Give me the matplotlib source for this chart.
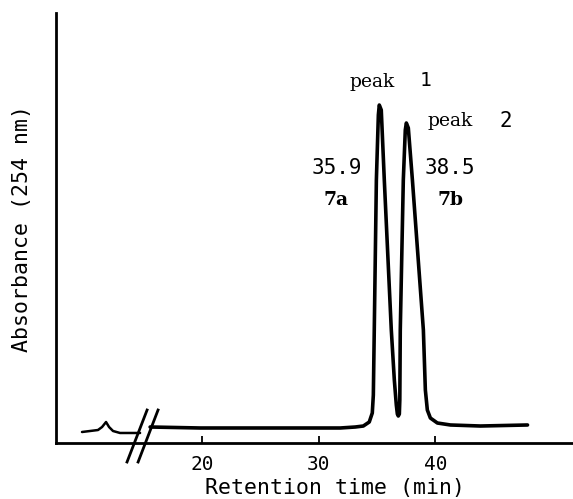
import matplotlib
matplotlib.use("Agg")
import matplotlib.pyplot as plt

# ---- data ----
# trace before the axis break (retention time, min / absorbance, arb.)
pre_t = [9.70, 10.39, 11.07, 11.42, 11.76, 12.02, 12.36, 12.96, 13.82, 14.68]
pre_a = [2.56, 2.79, 3.02, 3.72, 4.88, 3.72, 2.79, 2.33, 2.33, 2.33]

# trace after the break, including the two peaks
main_t = [15.54, 19.83, 24.12, 28.41, 31.85, 33.13, 33.82, 34.33, 34.59, 34.68,
          34.76, 34.94, 35.11, 35.19, 35.36, 35.62, 36.22, 36.48, 36.65, 36.74,
          36.82, 36.91, 36.95, 36.99, 37.25, 37.42, 37.51, 37.68, 38.03, 38.97,
          39.14, 39.31, 39.57, 40.17, 41.29, 43.86, 47.90]
main_a = [3.72, 3.49, 3.49, 3.49, 3.49, 3.72, 3.95, 4.88, 6.98, 11.16,
          26.28, 61.16, 76.28, 78.60, 77.44, 61.16, 26.28, 14.65, 8.84, 6.74,
          6.28, 6.74, 10.00, 26.28, 61.16, 72.79, 74.42, 73.26, 61.16, 26.28,
          12.33, 7.67, 5.81, 4.65, 4.19, 3.95, 4.19]

# axis break marks (two slashes)
break_t0 = [13.56, 14.51]
break_t1 = [15.28, 16.22]
break_a0 = -4.42
break_a1 = 7.67

x_ticks = [20, 30, 40]
x_ticklabels = ["20", "30", "40"]

peak_time_labels = ["35.9", "38.5"]
peak_compound_labels = ["7a", "7b"]

W, H, DPI = 573, 499, 100
fig = plt.figure(figsize=(W / DPI, H / DPI), dpi=DPI)

# axes box in pixels: left 56, right 573, bottom 443, top 13
ax = fig.add_axes([56 / W, (H - 443) / H, (573 - 56) / W, (443 - 13) / H])
ax.set_xlim(7.47, 51.8)
ax.set_ylim(0, 100)

lw = 2.6
ax.plot(pre_t, pre_a, color="black", lw=1.8, solid_joinstyle="round", solid_capstyle="round")
ax.plot(main_t, main_a, color="black", lw=lw, solid_joinstyle="round", solid_capstyle="round")

for t0, t1 in zip(break_t0, break_t1):
    ax.plot([t0, t1], [break_a0, break_a1], color="black", lw=2.0, clip_on=False)

for s in ["top", "right"]:
    ax.spines[s].set_visible(False)
for s in ["left", "bottom"]:
    ax.spines[s].set_linewidth(2.0)

mono = "DejaVu Sans Mono"
serif = "DejaVu Serif"

ax.set_yticks([])
ax.set_xticks(x_ticks)
ax.set_xticklabels(x_ticklabels, fontfamily=mono, fontsize=14)
ax.tick_params(axis="x", direction="in", length=5, width=1.3, pad=9)

fig.text(335 / W, (H - 488) / H, "Retention time (min)", fontfamily=mono,
         fontsize=15.5, ha="center", va="center")
fig.text(22 / W, (H - 228) / H, "Absorbance (254 nm)", fontfamily=mono,
         fontsize=15.5, ha="center", va="center", rotation=90)

def px(x, y):
    return (x / W, (H - y) / H)

# peak annotations
fig.text(*px(337, 168), peak_time_labels[0], fontfamily=mono, fontsize=15, ha="center", va="center")
fig.text(*px(450, 168), peak_time_labels[1], fontfamily=mono, fontsize=15, ha="center", va="center")
fig.text(*px(336, 200), peak_compound_labels[0], fontfamily=serif, fontsize=13.5,
         fontweight="bold", ha="center", va="center")
fig.text(*px(450, 200), peak_compound_labels[1], fontfamily=serif, fontsize=13.5,
         fontweight="bold", ha="center", va="center")

fig.text(*px(372, 82), "peak", fontfamily=serif, fontsize=13.5, ha="center", va="center")
fig.text(*px(425, 81), "1", fontfamily=mono, fontsize=14, ha="center", va="center")
fig.text(*px(450, 121), "peak", fontfamily=serif, fontsize=13.5, ha="center", va="center")
fig.text(*px(506, 121), "2", fontfamily=mono, fontsize=15, ha="center", va="center")

fig.savefig("out.png", dpi=DPI)
